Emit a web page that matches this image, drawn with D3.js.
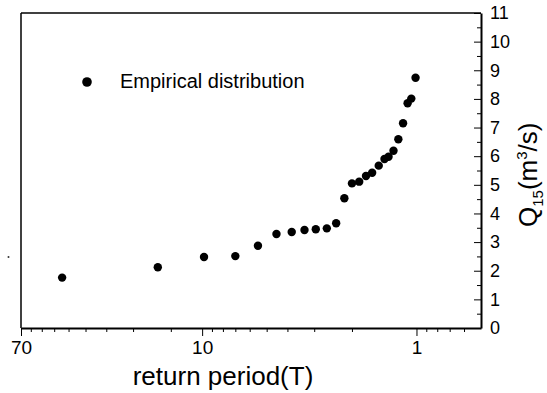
<!DOCTYPE html>
<html>
<head>
<meta charset="utf-8">
<script src="https://cdn.jsdelivr.net/npm/d3@7"></script>
<style>
  body { margin: 0; background: #fff; }
  text { font-family: "Liberation Sans", Arial, sans-serif; fill: #000; }
  .axis path, .axis line { stroke: #000; }
</style>
</head>
<body>
<script>
// 回归期 T（年）与 Q15 流量（m3/s）
var periods = [45, 16.1, 9.8, 7.0, 5.49, 4.5, 3.82, 3.33, 2.95, 2.62, 2.37, 2.17, 2.0,
               1.85, 1.72, 1.61, 1.5, 1.41, 1.35, 1.28, 1.215, 1.155, 1.10, 1.057, 1.01];
var flows = [1.76, 2.12, 2.48, 2.51, 2.87, 3.28, 3.35, 3.42, 3.45, 3.48, 3.66, 4.53, 5.05,
             5.11, 5.31, 5.42, 5.67, 5.9, 5.98, 6.19, 6.59, 7.15, 7.85, 8.01, 8.74];

// 刻度
var xMajor = [70, 10, 1];
var xMinor = [63, 56, 49, 42, 35, 28, 21, 14, 9, 8, 7, 6, 5, 4, 3, 2, 0.9, 0.8, 0.7, 0.6];
var yMajor = [0, 1, 2, 3, 4, 5, 6, 7, 8, 9, 10, 11];
var yMinor = [0.5, 1.5, 2.5, 3.5, 4.5, 5.5, 6.5, 7.5, 8.5, 9.5, 10.5];
var legendLabel = "Empirical distribution";

var W = 547, H = 393;
// 注意: 不能用 top 作变量名 (window.top 只读)
var pLeft = 21, pRight = 481, pTop = 13, pBottom = 328;

//x轴: 对数比例尺, 反向
var x = d3.scaleLog().domain([70, 0.5]).range([pLeft, pRight]);
var y = d3.scaleLinear().domain([0, 11]).range([pBottom, pTop]);

var svg = d3.select("body").append("svg")
    .attr("width", W)
    .attr("height", H);

// 上边框和左边框
svg.append("line").attr("x1", pLeft).attr("x2", pRight).attr("y1", pTop).attr("y2", pTop)
    .attr("stroke", "#000").attr("stroke-width", 1.5);
svg.append("line").attr("x1", pLeft).attr("x2", pLeft).attr("y1", pTop).attr("y2", pBottom)
    .attr("stroke", "#000").attr("stroke-width", 1.5);

// x轴 小刻度
svg.append("g")
    .attr("class", "axis")
    .attr("transform", "translate(0," + pBottom + ")")
    .call(d3.axisBottom(x).tickValues(xMinor).tickSize(4).tickSizeOuter(0).tickFormat(""))
    .call(function (g) { g.select(".domain").remove(); });
// x轴 大刻度
svg.append("g")
    .attr("class", "axis")
    .attr("transform", "translate(0," + pBottom + ")")
    .call(d3.axisBottom(x).tickValues(xMajor).tickSize(8).tickSizeOuter(0).tickPadding(5)
        .tickFormat(function (d) { return String(d); }))
    .call(function (g) {
        g.select(".domain").attr("stroke-width", 2);
        g.selectAll("text").style("font-size", "19px");
    });

// 右侧y轴, 刻度朝内
svg.append("g")
    .attr("class", "axis")
    .attr("transform", "translate(" + pRight + ",0)")
    .call(d3.axisRight(y).tickValues(yMinor).tickSize(-4).tickSizeOuter(0).tickFormat(""))
    .call(function (g) { g.select(".domain").remove(); });
svg.append("g")
    .attr("class", "axis")
    .attr("transform", "translate(" + pRight + ",0)")
    .call(d3.axisRight(y).tickValues(yMajor).tickSize(-7).tickSizeOuter(0).tickPadding(9))
    .call(function (g) {
        g.select(".domain").attr("stroke-width", 2);
        g.selectAll("text").style("font-size", "18px");
    });

// 坐标轴标题
svg.append("text")
    .attr("x", 223)
    .attr("y", 385)
    .attr("text-anchor", "middle")
    .style("font-size", "26px")
    .text("return period(T)");

var yt = svg.append("text")
    .attr("transform", "translate(537,227) rotate(-90)")
    .style("font-size", "26px");
yt.append("tspan").text("Q");
yt.append("tspan").attr("dy", 6).style("font-size", "15px").text("15");
yt.append("tspan").attr("dy", -6).text("(m");
yt.append("tspan").attr("dy", -10).style("font-size", "15px").text("3");
yt.append("tspan").attr("dy", 10).text("/s)");

// 散点
svg.append("g").selectAll("circle")
    .data(periods)
    .join("circle")
    .attr("cx", function (d) { return x(d); })
    .attr("cy", function (d, i) { return y(flows[i]); })
    .attr("r", 4.2)
    .attr("fill", "#000");

// 图例
svg.append("circle").attr("cx", 87).attr("cy", 82).attr("r", 4.8).attr("fill", "#000");
svg.append("text")
    .attr("x", 120)
    .attr("y", 88)
    .style("font-size", "20px")
    .text(legendLabel);

// 扫描留下的小点
svg.append("circle").attr("cx", 8.5).attr("cy", 257).attr("r", 1).attr("fill", "#333");
</script>
</body>
</html>
